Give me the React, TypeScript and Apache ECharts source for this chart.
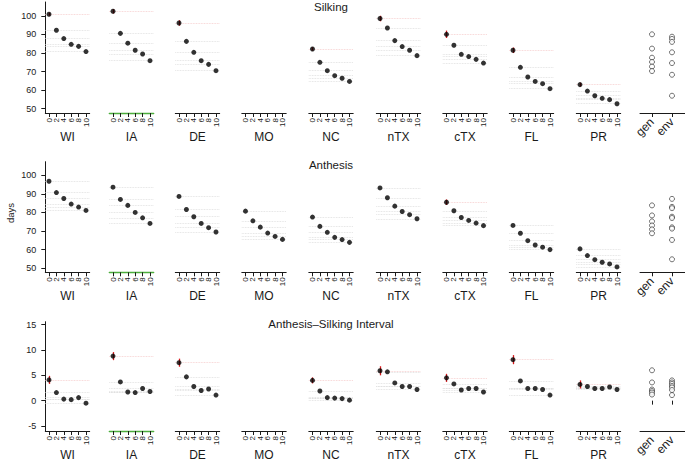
import React, { useEffect, useRef } from "react";
import * as echarts from "echarts";

const sites = ["WI", "IA", "DE", "MO", "NC", "nTX", "cTX", "FL", "PR"];
const levels = [0, 2, 4, 6, 8, 10];
const rowTitles = ["Silking", "Anthesis", "Anthesis\u2013Silking Interval"];
const sourceLabels = ["gen", "env"];

const silking: (number[] | null)[] = [
  [100.9, 92.3, 87.8, 84.7, 83.6, 80.8],
  [102.5, 90.6, 85.3, 81.5, 79.5, 75.9],
  [96.2, 86.3, 80.4, 75.9, 73.9, 70.5],
  null,
  [82.2, 75.0, 70.5, 67.8, 66.4, 64.7],
  [98.6, 93.5, 86.7, 83.5, 81.5, 78.6],
  [90.1, 84.2, 79.3, 78.1, 76.6, 74.6],
  [81.5, 72.3, 67.1, 64.7, 63.5, 60.8],
  [63.0, 59.5, 57.0, 55.6, 54.9, 52.7],
];
const silkingErr = [0.8, 1.2, 1.5, 0, 0.9, 1.5, 2.0, 1.5, 1.0];
const silkingGen = [90.1, 82.4, 77.5, 75.2, 72.7, 70.3];
const silkingEnv = [88.8, 87.6, 86.0, 80.4, 74.6, 68.3, 57.0];

const anthesis: (number[] | null)[] = [
  [96.8, 90.7, 87.5, 84.5, 82.9, 81.1],
  [93.6, 87.0, 83.8, 80.0, 77.1, 74.1],
  [88.6, 81.6, 77.7, 74.1, 71.8, 69.5],
  [80.7, 75.5, 72.1, 68.9, 67.1, 65.5],
  [77.5, 72.5, 69.3, 66.6, 65.4, 63.9],
  [93.2, 87.9, 83.4, 80.5, 78.8, 76.6],
  [85.5, 80.9, 77.3, 75.7, 74.3, 72.9],
  [73.0, 68.8, 64.8, 62.5, 61.3, 60.0],
  [60.4, 56.8, 54.6, 53.2, 52.3, 50.7],
];
const anthesisErr = [0, 0, 0, 0, 0, 0, 1.5, 0, 0];
const anthesisGen = [83.8, 78.4, 75.2, 73.0, 70.9, 68.8];
const anthesisEnv = [87.3, 83.0, 82.3, 77.7, 77.0, 72.0, 71.3, 65.2, 54.8];

const asi: (number[] | null)[] = [
  [4.1, 1.6, 0.3, 0.2, 0.6, -0.5],
  [8.8, 3.7, 1.7, 1.6, 2.4, 1.8],
  [7.5, 4.7, 2.8, 2.0, 2.3, 1.1],
  null,
  [4.0, 1.9, 0.6, 0.5, 0.4, 0.1],
  [5.9, 5.7, 3.5, 2.8, 2.8, 2.2],
  [4.5, 3.3, 2.1, 2.4, 2.4, 1.7],
  [8.1, 3.9, 2.4, 2.4, 2.2, 1.1],
  [3.2, 2.8, 2.4, 2.4, 2.7, 2.2],
];
const asiErr = [0.8, 0.8, 0.8, 0, 0.6, 0.9, 0.8, 0.9, 0.8];
const asiGen = [6.0, 3.6, 2.2, 1.9, 1.6, 1.2];
const asiEnv = [4.0, 3.6, 3.3, 2.9, 2.6, 2.1, 1.1];

// y tick ranges: [min, max, interval]
const daysTicks = [50, 100, 10];
const asiTicks = [-5, 15, 5];

// layout
const PANEL_X0 = [49, 113, 179, 245.5, 312.5, 380, 446.5, 513, 580];
const PX = 3.7;
const XMIN = -1;
const XMAX = 11;
const xCats: string[] = [];
for (let v = XMIN; v <= XMAX; v++) xCats.push(String(v));
const FONT = "Liberation Sans, Arial, sans-serif";
const GREEN = "#4cae3c";
const INK = "#1a1a1a";

const rows = [
  { data: silking, err: silkingErr, gen: silkingGen, env: silkingEnv, ticks: daysTicks, top: 2, height: 111, ymin: 47.7, ymax: 107.5, titleY: 7 },
  { data: anthesis, err: anthesisErr, gen: anthesisGen, env: anthesisEnv, ticks: daysTicks, top: 161.7, height: 110.6, ymin: 47.8, ymax: 107.3, titleY: 165 },
  { data: asi, err: asiErr, gen: asiGen, env: asiEnv, ticks: asiTicks, top: 321.7, height: 109.3, ymin: -6, ymax: 15.6, titleY: 324 },
];

const isLevel = (v: string) => levels.indexOf(Number(v)) >= 0;

function buildOption() {
  const grid: any[] = [];
  const xAxis: any[] = [];
  const yAxis: any[] = [];
  const series: any[] = [];
  const graphic: any[] = [];

  const hiddenY = (idx: number, min: number, max: number) => ({ type: "value", gridIndex: idx, min, max, show: false });
  const hiddenX = (idx: number) => ({ type: "value", gridIndex: idx, min: 0, max: 1, show: false });
  const baseGrid = { containLabel: false, outerBoundsMode: "none" };

  rows.forEach((row, r) => {
    graphic.push({
      type: "text",
      x: 331,
      y: row.titleY,
      style: { text: rowTitles[r], font: `11.5px ${FONT}`, fill: INK, textAlign: "center", textVerticalAlign: "middle" },
    });
    const scaleY = (v: number) => row.top + ((row.ymax - v) / (row.ymax - row.ymin)) * row.height;

    for (let p = 0; p < 10; p++) {
      const idx = grid.length;
      const isGE = p === 9;
      grid.push({
        ...baseGrid,
        left: isGE ? 640 : PANEL_X0[p] - (0 - XMIN) * PX,
        width: isGE ? 45 : (XMAX - XMIN) * PX,
        top: row.top,
        height: row.height,
      });
      if (!isGE) {
        xAxis.push({
          type: "category",
          gridIndex: idx,
          data: xCats,
          boundaryGap: false,
          position: "bottom",
          axisLine: { show: true, onZero: false, lineStyle: { color: p === 1 ? GREEN : INK, width: p === 1 ? 1.3 : 1 } },
          axisTick: { show: true, length: 4, inside: false, interval: (_i: number, v: string) => isLevel(v), lineStyle: { color: INK, width: 1 } },
          axisLabel: {
            show: true,
            interval: 0,
            rotate: 90,
            fontSize: 8,
            fontFamily: FONT,
            color: INK,
            margin: 5,
            formatter: (v: string) => (isLevel(v) ? v : ""),
          },
          splitLine: { show: false },
          name: sites[p],
          nameLocation: "middle",
          nameGap: 18,
          nameTextStyle: { fontSize: 12, fontFamily: FONT, color: INK },
        });
      } else {
        xAxis.push({
          type: "value",
          gridIndex: idx,
          min: 0,
          max: 1,
          axisLine: { show: true, onZero: false, lineStyle: { color: INK, width: 1 } },
          axisTick: { show: false },
          axisLabel: { show: false },
          splitLine: { show: false },
        });
      }
      yAxis.push({
        type: "value",
        gridIndex: idx,
        min: row.ymin,
        max: row.ymax,
        show: p === 0,
        axisLine: { show: true, onZero: false, lineStyle: { color: INK, width: 1 } },
        axisTick: { show: false },
        axisLabel: { show: false },
        splitLine: { show: false },
      });

      if (!isGE) {
        const vals = row.data[p];
        if (!vals) continue;
        const e = row.err[p];
        const mlData: any[] = vals.map((v, i) => [
          {
            coord: [String(XMIN), v],
            lineStyle: { color: i === 0 && e > 0 ? "#f5c6c6" : "#dadada", type: "dotted", width: 0.8 },
          },
          { coord: [String(XMAX), v] },
        ]);
        if (e > 0) {
          mlData.push([
            { coord: [String(levels[0]), vals[0] - e], lineStyle: { color: "#d7191c", type: "solid", width: 1.3 } },
            { coord: [String(levels[0]), vals[0] + e] },
          ]);
        }
        series.push({
          type: "scatter",
          xAxisIndex: idx,
          yAxisIndex: idx,
          data: levels.map((l, i) => [String(l), vals[i]]),
          symbol: "circle",
          symbolSize: 5,
          itemStyle: { color: "#000" },
          silent: true,
          z: 3,
          markLine: {
            silent: true,
            symbol: ["none", "none"],
            label: { show: false },
            data: mlData,
            z: 2,
          },
        });
      } else {
        // category grid for gen / env, spanning tick to tick
        const gIdx = grid.length;
        grid.push({ ...baseGrid, left: 652, width: 20, top: row.top, height: row.height });
        xAxis.push({
          type: "category",
          gridIndex: gIdx,
          data: sourceLabels,
          boundaryGap: false,
          position: "bottom",
          axisLine: { show: false },
          axisTick: { show: true, length: 4, interval: 0, lineStyle: { color: INK, width: 1 } },
          axisLabel: { show: true, interval: 0, rotate: 45, fontSize: 12, fontFamily: FONT, color: INK, margin: 7 },
          splitLine: { show: false },
        });
        yAxis.push(hiddenY(gIdx, row.ymin, row.ymax));
        const open = { color: "#fff", borderColor: "#222", borderWidth: 0.8 };
        series.push({
          type: "scatter",
          xAxisIndex: gIdx,
          yAxisIndex: gIdx,
          data: row.gen.map((v) => [sourceLabels[0], v]),
          symbolSize: 5,
          itemStyle: open,
          silent: true,
        });
        series.push({
          type: "scatter",
          xAxisIndex: gIdx,
          yAxisIndex: gIdx,
          data: row.env.map((v) => [sourceLabels[1], v]),
          symbolSize: 5,
          itemStyle: open,
          silent: true,
        });
      }
    }

    // y tick/label axis, aligned to the row's scale
    const [tmin, tmax, tint] = row.ticks;
    const tIdx = grid.length;
    grid.push({ ...baseGrid, left: PANEL_X0[0] - (0 - XMIN) * PX, width: 2, top: scaleY(tmax), height: scaleY(tmin) - scaleY(tmax) });
    xAxis.push(hiddenX(tIdx));
    yAxis.push({
      type: "value",
      gridIndex: tIdx,
      min: tmin,
      max: tmax,
      interval: tint,
      position: "left",
      axisLine: { show: false },
      axisTick: { show: true, length: 4, lineStyle: { color: INK, width: 1 } },
      axisLabel: { show: true, fontSize: 9, fontFamily: FONT, color: INK, margin: 9, showMinLabel: true, showMaxLabel: true },
      splitLine: { show: false },
    });
  });

  graphic.push({
    type: "text",
    x: 10,
    y: 213,
    rotation: Math.PI / 2,
    style: { text: "days", font: `9.5px ${FONT}`, fill: INK, textAlign: "center", textVerticalAlign: "middle" },
  });

  return {
    animation: false,
    backgroundColor: "#fff",
    textStyle: { fontFamily: FONT },
    grid,
    xAxis,
    yAxis,
    series,
    graphic,
  };
}

export default function App() {
  const ref = useRef<HTMLDivElement>(null);
  useEffect(() => {
    if (!ref.current) return;
    const chart = echarts.init(ref.current, undefined, { renderer: "svg" });
    chart.setOption(buildOption() as any);
    return () => chart.dispose();
  }, []);
  return (
    <div
      ref={ref}
      style={{ position: "fixed", left: 0, top: 0, width: 685, height: 461, background: "#fff" }}
    />
  );
}
